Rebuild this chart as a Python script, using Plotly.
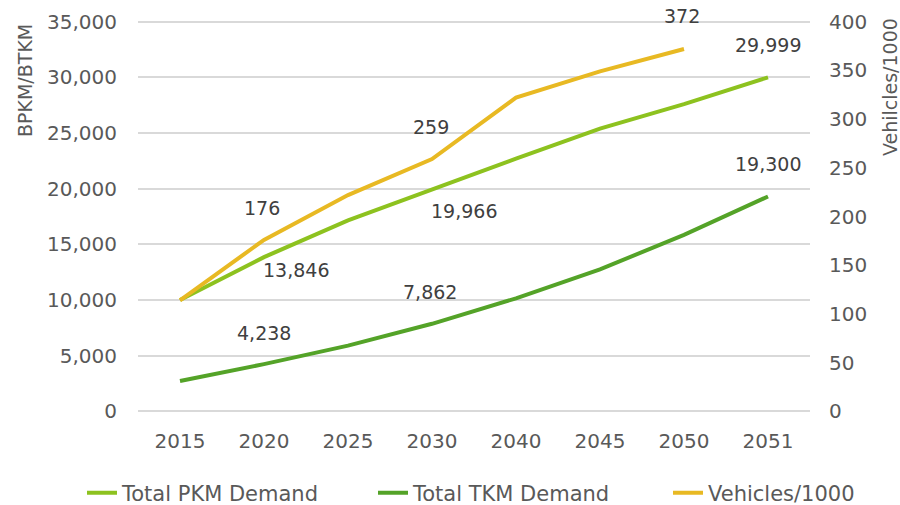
import plotly.graph_objects as go

years = ["2015", "2020", "2025", "2030", "2040", "2045", "2050", "2051"]
pkm = [10000, 13846, 17150, 19966, 22700, 25400, 27600, 29999]
tkm = [2730, 4238, 5900, 7862, 10150, 12750, 15850, 19300]
veh = [114, 176, 222, 259, 322, 349, 372, None]

names = ["Total PKM Demand", "Total TKM Demand", "Vehicles/1000"]
colors = ["#8DC21F", "#54A328", "#E8B923"]

# labelled points: (series index, category index, text, xshift, yshift)
labels = [
    (0, 1, "13,846", 32, -13),
    (0, 3, "19,966", 32, -22),
    (0, 7, "29,999", 0, 32),
    (1, 1, "4,238", 0, 31),
    (1, 3, "7,862", -2, 32),
    (1, 7, "19,300", 0, 32),
    (2, 1, "176", -2, 32),
    (2, 3, "259", -1, 32),
    (2, 6, "372", -2, 33),
]

FONT = "DejaVu Sans, Verdana, sans-serif"
TXT = "#595959"

L, R, T, B = 138, 90, 20, 92
W, H = 900, 505
PW, PH = W - L - R, H - T - B


def px(xp):
    return (xp - L) / PW


def py(yp):
    return (H - B - yp) / PH


fig = go.Figure()
series = [pkm, tkm, veh]
legend_ids = ["legend", "legend2", "legend3"]
legend_text_x = [127, 418, 713]
for i, (nm, vals, col) in enumerate(zip(names, series, colors)):
    fig.add_trace(go.Scatter(
        x=years, y=vals, name=nm, mode="lines",
        line=dict(color=col, width=4),
        yaxis="y2" if i == 2 else "y",
        legend=legend_ids[i],
    ))

for si, ci, txt, dx, dy in labels:
    fig.add_annotation(
        x=ci, y=series[si][ci], xref="x", yref="y2" if si == 2 else "y",
        text=txt, showarrow=False, xshift=dx, yshift=dy,
        font=dict(family=FONT, size=19, color="#404040"),
    )

# axis titles (placed at the top of each axis as in the reference)
fig.add_annotation(x=px(25), y=py(80), xref="paper", yref="paper", text="BPKM/BTKM",
                   textangle=-90, showarrow=False, xanchor="center", yanchor="middle",
                   font=dict(family=FONT, size=19, color=TXT))
fig.add_annotation(x=px(890), y=py(87), xref="paper", yref="paper", text="Vehilcles/1000",
                   textangle=-90, showarrow=False, xanchor="center", yanchor="middle",
                   font=dict(family=FONT, size=19, color=TXT))

leg_common = dict(orientation="h", yanchor="middle", xanchor="left",
                  font=dict(family=FONT, size=21, color=TXT),
                  bgcolor="rgba(0,0,0,0)", borderwidth=0)
legs = {}
for lid, tx in zip(legend_ids, legend_text_x):
    legs[lid] = dict(leg_common, x=px(tx - 45), y=py(493))

PAD = 150
fig.update_layout(
    width=W, height=H,
    margin=dict(l=L, r=R, t=T, b=B, autoexpand=False),
    paper_bgcolor="white", plot_bgcolor="white",
    font=dict(family=FONT, size=19, color=TXT),
    showlegend=True,
    **legs,
    xaxis=dict(type="category", range=[-0.5, len(years) - 0.5],
               showgrid=False, zeroline=False, showline=False,
               ticks="", ticklabelstandoff=14,
               tickfont=dict(family=FONT, size=20, color=TXT)),
    yaxis=dict(range=[-PAD, 35000 + PAD], tick0=0, dtick=5000, tickformat=",d",
               showgrid=True, gridcolor="#D9D9D9", gridwidth=1.5, zeroline=False,
               showline=False, ticks="", ticklabelstandoff=20,
               tickfont=dict(family=FONT, size=20, color=TXT)),
    yaxis2=dict(range=[-PAD * 400 / 35000, 400 + PAD * 400 / 35000], tick0=0, dtick=50,
                overlaying="y", side="right",
                showgrid=False, zeroline=False, showline=False, ticks="",
                ticklabelstandoff=18,
                tickfont=dict(family=FONT, size=20, color=TXT)),
)

fig.write_html("out.html", config={"displayModeBar": False},
               post_script="document.body.style.margin='0';")
